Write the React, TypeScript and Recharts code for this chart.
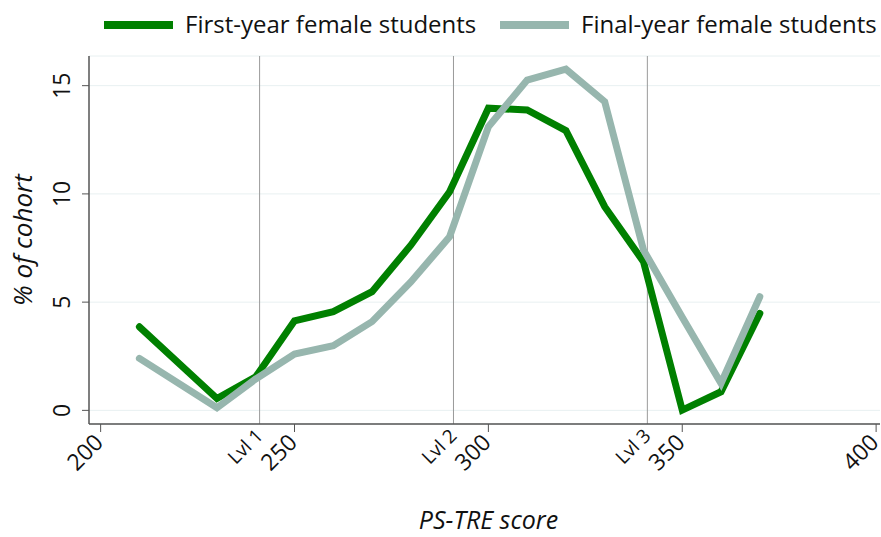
import React from 'react';
import { LineChart, Line, XAxis, YAxis, CartesianGrid, ReferenceLine } from 'recharts';

const scores = [210, 230, 240, 250, 260, 270, 280, 290, 300, 310, 320, 330, 340, 350, 360, 370];
const firstYear = [3.86, 0.55, 1.55, 4.14, 4.56, 5.48, 7.63, 10.1, 13.96, 13.88, 12.92, 9.41, 6.87, 0.01, 0.86, 4.48];
const finalYear = [2.4, 0.12, 1.45, 2.6, 2.99, 4.1, 5.93, 8.02, 13.1, 15.26, 15.76, 14.26, 7.41, 4.3, 1.25, 5.25];

const xTicks = [200, 250, 300, 350, 400];
const yTicks = [0, 5, 10, 15];
const levelScores = [241, 291, 341];
const levelLabels = ['Lvl 1', 'Lvl 2', 'Lvl 3'];

const seriesNames = ['First-year female students', 'Final-year female students'];
const seriesColors = ['#008000', '#97b6ae'];

const data = scores.map((s, i) => ({ score: s, first: firstYear[i], final: finalYear[i] }));

const FONT = '"Open Sans", sans-serif';

const XTick = (props: any) => {
  const { x, y, payload } = props;
  const ax = x + 4;
  const ay = y + 12;
  return (
    <text x={ax} y={ay} textAnchor="end" fontSize={23} fontFamily={FONT} fill="#111"
      transform={`rotate(-45, ${ax}, ${ay})`}>
      {payload.value}
    </text>
  );
};

const YTick = (props: any) => {
  const { x, y, payload } = props;
  return (
    <text x={x} y={y} textAnchor="middle" fontSize={23} fontFamily={FONT} fill="#111"
      transform={`rotate(-90, ${x}, ${y})`}>
      {payload.value}
    </text>
  );
};

const makeLevelLabel = (text: string) => (props: any) => {
  const vb = props.viewBox || {};
  const ax = (vb.x ?? 0) + 4.5;
  const ay = (vb.y ?? 0) + (vb.height ?? 0) + 13;
  return (
    <text x={ax} y={ay} textAnchor="end" fontSize={19} fontFamily={FONT} fill="#111"
      transform={`rotate(-45, ${ax}, ${ay})`}>
      {text}
    </text>
  );
};

const XTitle = (props: any) => {
  const vb = props.viewBox;
  const cx = vb.x + vb.width / 2 + 4;
  return (
    <text x={cx} y={vb.y + 105} textAnchor="middle" fontSize={25} fontStyle="italic" fontFamily={FONT} fill="#111">
      PS-TRE score
    </text>
  );
};

const YTitle = (props: any) => {
  const vb = props.viewBox;
  const cx = 32;
  const cy = vb.y + vb.height / 2;
  return (
    <text x={cx} y={cy} textAnchor="middle" fontSize={26} fontStyle="italic" fontFamily={FONT} fill="#111"
      transform={`rotate(-90, ${cx}, ${cy})`}>
      % of cohort
    </text>
  );
};

const legendX = [104, 500];

export default function App() {
  return (
    <div style={{ position: 'absolute', left: 0, top: 0, width: 881, height: 537, background: '#fff' }}>
      <LineChart width={881} height={537} data={data} margin={{ top: 56, right: 1, left: 0, bottom: 0 }}>
        <CartesianGrid vertical={false} stroke="#e8f0f1" strokeWidth={1} />
        <XAxis dataKey="score" type="number" domain={[197, 401]} ticks={xTicks} allowDataOverflow
          height={113} tickSize={8} tickMargin={0} stroke="#555" tickLine={{ stroke: '#555' }}
          axisLine={{ stroke: '#555', strokeWidth: 1.5 }} tick={<XTick />} label={<XTitle />} interval={0} />
        <YAxis type="number" domain={[-0.63, 16.37]} ticks={yTicks} allowDataOverflow width={89}
          tickSize={7} tickMargin={12} stroke="#555" axisLine={{ stroke: '#555', strokeWidth: 1.5 }}
          tick={<YTick />} label={<YTitle />} interval={0} />
        {levelScores.map((lv, i) => (
          <ReferenceLine key={lv} x={lv} stroke="#9a9a9a" strokeWidth={1} label={makeLevelLabel(levelLabels[i])} />
        ))}
        <Line dataKey="first" name={seriesNames[0]} stroke={seriesColors[0]} strokeWidth={7} dot={false}
          strokeLinecap="round" isAnimationActive={false} />
        <Line dataKey="final" name={seriesNames[1]} stroke={seriesColors[1]} strokeWidth={7} dot={false}
          strokeLinecap="round" isAnimationActive={false} />
      </LineChart>
      <svg width={881} height={50} style={{ position: 'absolute', left: 0, top: 0 }}>
        {seriesNames.map((n, i) => (
          <g key={n}>
            <line x1={legendX[i]} x2={legendX[i] + 69} y1={25} y2={25} stroke={seriesColors[i]} strokeWidth={8} />
            <text x={legendX[i] + 81} y={33} fontSize={24} fontFamily={FONT} fill="#111">{n}</text>
          </g>
        ))}
      </svg>
    </div>
  );
}
